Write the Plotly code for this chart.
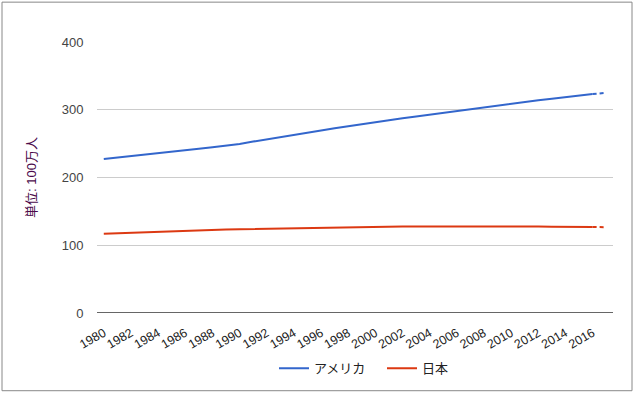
import plotly.graph_objects as go

years = [str(y) for y in range(1980, 2018)]
usa = [227.2, 229.5, 231.7, 233.8, 235.8, 237.9, 240.1, 242.3, 244.5, 246.8,
       249.6, 253.0, 256.5, 259.9, 263.1, 266.3, 269.4, 272.7, 275.9, 279.0,
       282.2, 285.0, 287.6, 290.1, 292.8, 295.5, 298.4, 301.2, 304.1, 306.8,
       309.3, 311.6, 313.9, 316.1, 318.4, 320.7, 323.1, 325.1]
japan = [116.8, 117.6, 118.4, 119.3, 120.0, 120.8, 121.5, 122.0, 122.6, 123.1,
         123.6, 124.0, 124.5, 124.8, 125.0, 125.6, 125.9, 126.2, 126.5, 126.7,
         126.9, 127.3, 127.5, 127.7, 127.8, 127.8, 127.9, 128.0, 128.1, 128.0,
         128.1, 127.8, 127.6, 127.3, 127.1, 127.1, 126.9, 126.7]
series_names = ["アメリカ", "日本"]
colors = ["#3366cc", "#dc3912"]
tick_years = years[::2]
y_ticks = [0, 100, 200, 300, 400]

FONT = "Arial, 'Liberation Sans', 'Noto Sans CJK JP', sans-serif"

fig = go.Figure()
for name, vals, col in zip(series_names, [usa, japan], colors):
    fig.add_trace(go.Scatter(x=years[:-1], y=vals[:-1], mode="lines", name=name,
                             line=dict(color=col, width=2)))
    fig.add_trace(go.Scatter(x=years[-2:], y=vals[-2:], mode="lines", name=name,
                             showlegend=False,
                             line=dict(color=col, width=2, dash="4px,3px")))

W, H = 635, 394
L, R, T, B = 97, 22, 42, 80
pw, ph = W - L - R, H - T - B

fig.update_layout(
    width=W, height=H,
    margin=dict(l=L, r=R, t=T, b=B),
    paper_bgcolor="white", plot_bgcolor="white",
    font=dict(family=FONT, size=12, color="#444444"),
    xaxis=dict(type="category", categoryorder="array", categoryarray=years,
               tickvals=tick_years, ticktext=tick_years, tickangle=-30,
               showgrid=False, showline=False, zeroline=False,
               ticks="outside", ticklen=7, tickcolor="rgba(0,0,0,0)",
               range=[-0.5, len(years) - 0.5],
               tickfont=dict(size=12.5, color="#222222")),
    yaxis=dict(range=[0, 400], tickvals=y_ticks, showgrid=True,
               gridcolor="#cccccc", gridwidth=1, zeroline=False, showline=False,
               ticks="outside", ticklen=10, tickcolor="rgba(0,0,0,0)",
               title=dict(text="単位: 100万人", standoff=22,
                          font=dict(size=13, color="#4b0a4b")),
               tickfont=dict(size=13, color="#444444")),
    legend=dict(orientation="h", x=(274 - L) / pw, xanchor="left", y=-0.2,
                yanchor="middle", itemwidth=30, entrywidth=63,
                entrywidthmode="pixels",
                font=dict(size=13, color="#222222")),
    shapes=[
        dict(type="line", xref="paper", yref="y", x0=0, x1=1, y0=0, y1=0,
             line=dict(color="#333333", width=1.5)),
        dict(type="rect", xref="paper", yref="paper",
             x0=(2 - L) / pw, x1=(632 - L) / pw,
             y0=(H - 392 - B) / ph, y1=(H - 2 - B) / ph,
             line=dict(color="#888888", width=1), layer="below"),
    ],
)

fig.write_html("out.html")
